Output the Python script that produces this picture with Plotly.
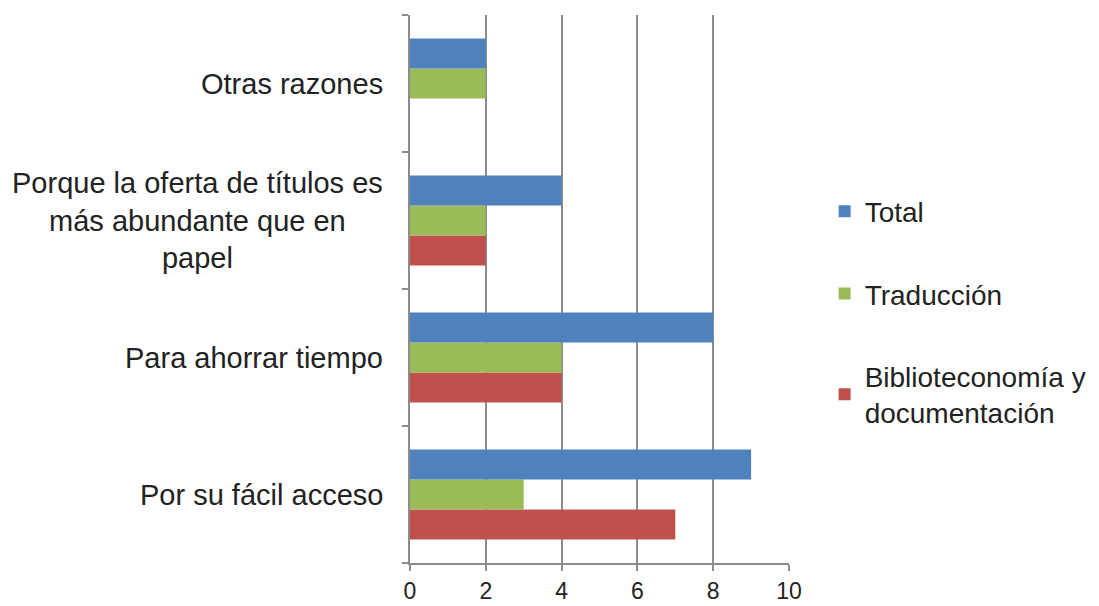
import plotly.graph_objects as go

categories = ["Por su fácil acceso", "Para ahorrar tiempo",
              "Porque la oferta de títulos es<br>más abundante que en<br>papel",
              "Otras razones"]
series_names = ["Biblioteconomía y<br>documentación", "Traducción", "Total"]
biblio = [7, 4, 2, 0]
traduccion = [3, 4, 2, 2]
total = [9, 8, 4, 2]
colors = ["#C0504D", "#9BBB59", "#4F81BD"]
legend_ranks = [3, 2, 1]
x_ticks = [0, 2, 4, 6, 8, 10]

FONT = "Liberation Sans, Arial, sans-serif"
TXT = "#222222"
GRID = "#8c8c8c"

fig = go.Figure()
for name, vals, col, grp, rk in zip(series_names, [biblio, traduccion, total], colors,
                                    ["a", "b", "c"], legend_ranks):
    fig.add_trace(go.Bar(
        y=categories, x=vals, name=name, orientation="h",
        marker=dict(color=col, line=dict(width=0)),
        legendgroup=grp, legendrank=rk,
    ))

for c in categories:
    fig.add_annotation(
        x=-0.065, xref="paper", y=c, yref="y",
        text=c, showarrow=False, xanchor="right", yanchor="middle",
        align="center", font=dict(family=FONT, size=29, color=TXT),
    )

fig.update_layout(
    width=1099, height=606,
    margin=dict(l=410, r=310, t=15, b=43, autoexpand=False),
    paper_bgcolor="white", plot_bgcolor="white",
    barmode="group", bargap=0.343, bargroupgap=0,
    font=dict(family=FONT, color=TXT),
    showlegend=True,
    legend=dict(
        x=1.094, xanchor="left", y=0.458, yanchor="middle",
        traceorder="grouped", tracegroupgap=43,
        font=dict(family=FONT, size=28, color=TXT),
        bgcolor="rgba(0,0,0,0)",
    ),
    xaxis=dict(
        range=[0, 10], tickvals=x_ticks, ticktext=[str(v) for v in x_ticks],
        showgrid=True, gridcolor=GRID, gridwidth=1.5,
        zeroline=False, showline=True, linecolor=GRID, linewidth=1.5,
        ticks="outside", ticklen=6, tickcolor=GRID, tickwidth=1.5,
        tickfont=dict(family=FONT, size=23, color=TXT),
        ticklabelstandoff=1,
        automargin=False, fixedrange=True,
    ),
    yaxis=dict(
        type="category", range=[-0.5, 3.5],
        showticklabels=False, showgrid=False, zeroline=False,
        showline=True, linecolor=GRID, linewidth=1.5,
        ticks="outside", tickson="boundaries", ticklen=6,
        tickcolor=GRID, tickwidth=1.5,
        automargin=False, fixedrange=True,
    ),
)

fig.write_html("out.html", config={"displayModeBar": False},
               post_script="document.body.style.margin='0';document.body.style.overflow='hidden';")
